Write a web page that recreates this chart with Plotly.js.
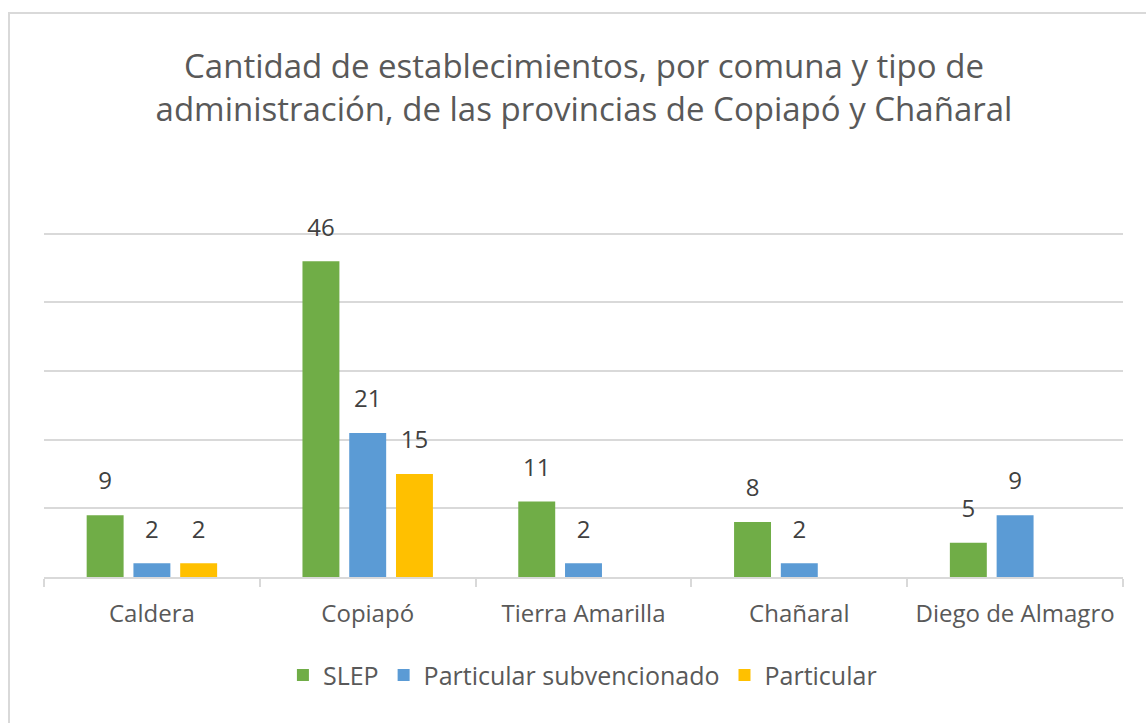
<!DOCTYPE html>
<html><head><meta charset="utf-8">
<script src="https://cdn.plot.ly/plotly-3.0.1.min.js"></script>
<style>
html,body{margin:0;padding:0;background:#fff;overflow:hidden;}
#frame{position:absolute;left:8px;top:12px;width:1160px;height:740px;border:2px solid #d9d9d9;box-sizing:border-box;}
#chart{position:absolute;left:0;top:0;width:1146px;height:723px;}
</style></head>
<body>
<div id="frame"></div>
<div id="chart"></div>
<script>
const comunas = ["Caldera", "Copiapó", "Tierra Amarilla", "Chañaral", "Diego de Almagro"];
const slep = [9, 46, 11, 8, 5];
const subvencionado = [2, 21, 2, 2, 9];
const particular = [2, 15, null, null, null];
const seriesNames = ["SLEP", "Particular subvencionado", "Particular"];
const seriesColors = ["#70AD47", "#5B9BD5", "#FFC000"];
const titleText = "Cantidad de establecimientos, por comuna y tipo de<br>administración, de las provincias de Copiapó y Chañaral";

const FONT = "'Open Sans', 'Noto Sans', sans-serif";
const vals = [slep, subvencionado, particular];
const bars = vals.map((v, i) => ({
  type: "bar",
  name: seriesNames[i],
  x: comunas,
  y: v,
  marker: {color: seriesColors[i]},
  hoverinfo: "x+y+name"
}));
const labels = vals.map((v, i) => ({
  type: "scatter",
  mode: "text+markers",
  name: seriesNames[i] + " etiquetas",
  showlegend: false,
  x: comunas,
  y: v,
  text: v.map(d => d === null ? "" : String(d)),
  textposition: "top center",
  marker: {size: 30, opacity: 0, color: seriesColors[i]},
  textfont: {family: FONT, size: 24, color: "#404040"},
  cliponaxis: false,
  hoverinfo: "skip"
}));

const layout = {
  width: 1146, height: 723,
  paper_bgcolor: "rgba(0,0,0,0)",
  plot_bgcolor: "rgba(0,0,0,0)",
  margin: {l: 44, r: 23, t: 227, b: 146},
  barmode: "group",
  bargap: 0.35,
  bargroupgap: 0.21,
  scattermode: "group",
  scattergap: 0.35,
  font: {family: FONT, color: "#595959"},
  title: {
    text: titleText,
    font: {family: FONT, size: 33, color: "#595959"},
    x: 0.5096, xref: "container", xanchor: "center",
    y: 1 - 78/723, yref: "container", yanchor: "top"
  },
  xaxis: {
    type: "category",
    showline: true, linecolor: "#d9d9d9", linewidth: 2,
    ticks: "outside", tickson: "boundaries", ticklen: 8, tickcolor: "#d9d9d9", tickwidth: 2,
    tickangle: 0,
    tickfont: {family: FONT, size: 24, color: "#595959"},
    ticklabelstandoff: 14,
    showgrid: false, fixedrange: true
  },
  yaxis: {
    range: [0, 51], dtick: 10,
    showticklabels: false,
    showgrid: true, gridcolor: "#d9d9d9", gridwidth: 2,
    zeroline: false, showline: false, fixedrange: true
  },
  showlegend: true,
  legend: {
    orientation: "h", x: 0.499, xanchor: "center", y: -0.215, yanchor: "top",
    font: {family: FONT, size: 25, color: "#595959"},
    itemwidth: 30, traceorder: "normal"
  }
};

Plotly.newPlot("chart", bars.concat(labels), layout, {displayModeBar: false, staticPlot: true});
</script>
</body></html>
